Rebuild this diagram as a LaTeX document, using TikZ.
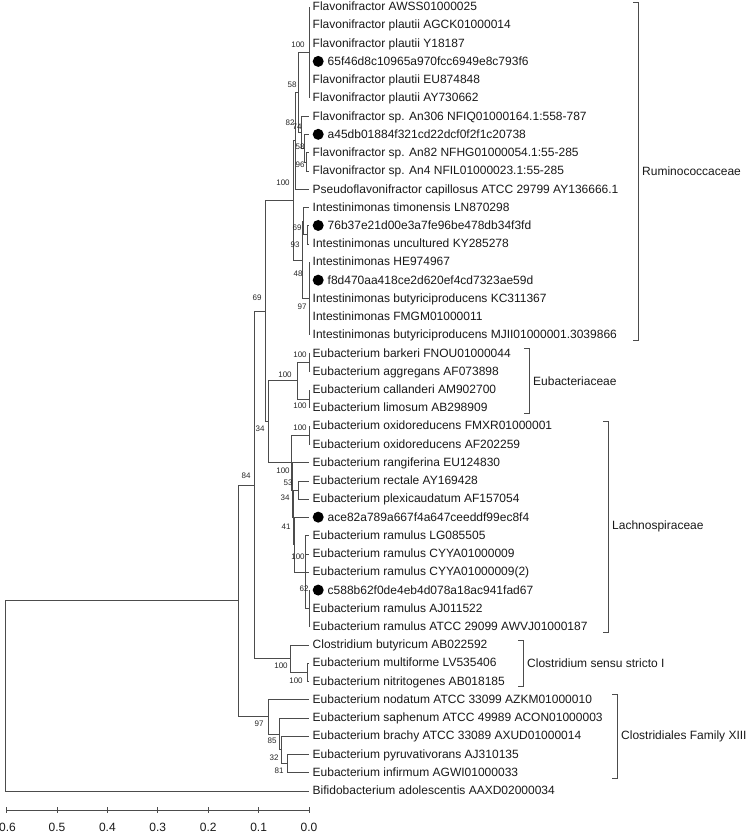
\documentclass[tikz,border=0pt]{standalone}
\usepackage{fontspec}
\setmainfont{Liberation Sans}
\newcommand{\otu}{\tikz[x=1pt,y=1pt,baseline=-4pt]\fill[black] (0,0) circle (5.5pt);\hspace{4pt}}
\newcommand{\branchto}[2]{\foreach \c in {#2} {\draw[branch] (#1) |- (\c);}}
\begin{document}
\begin{tikzpicture}[
    x=1pt, y=-1pt,
    leaf/.style={anchor=west, inner xsep=3.5pt, inner ysep=0pt, text height=8pt, text depth=0.6pt, font=\fontsize{12}{14}\selectfont, text=black!90},
    boot/.style={inner sep=0pt, font=\fontsize{8}{9}\selectfont, text=black!85},
    branch/.style={draw=black!70, line width=0.8pt},
    bracket/.style={draw=black!70, line width=0.8pt},
    group/.style={anchor=west, inner xsep=4pt, font=\fontsize{12}{14}\selectfont, text=black!90},
    tick/.style={font=\fontsize{12}{14}\selectfont, text=black!90}
]
    \useasboundingbox (0,0) rectangle (750,835);

    % Leaves
    \node[leaf] (l1) at (309,7.00) {Flavonifractor AWSS01000025};
    \node[leaf] (l2) at (309,25.23) {Flavonifractor plautii AGCK01000014};
    \node[leaf] (l3) at (309,43.46) {Flavonifractor plautii Y18187};
    \node[leaf] (l4) at (309,61.69) {\otu 65f46d8c10965a970fcc6949e8c793f6};
    \node[leaf] (l5) at (309,79.92) {Flavonifractor plautii EU874848};
    \node[leaf] (l6) at (309,98.15) {Flavonifractor plautii AY730662};
    \node[leaf] (l7) at (309,116.38) {Flavonifractor sp. An306 NFIQ01000164.1:558-787};
    \node[leaf] (l8) at (309,134.61) {\otu a45db01884f321cd22dcf0f2f1c20738};
    \node[leaf] (l9) at (309,152.84) {Flavonifractor sp. An82 NFHG01000054.1:55-285};
    \node[leaf] (l10) at (309,171.07) {Flavonifractor sp. An4 NFIL01000023.1:55-285};
    \node[leaf] (l11) at (309,189.30) {Pseudoflavonifractor capillosus ATCC 29799 AY136666.1};
    \node[leaf] (l12) at (309,207.53) {Intestinimonas timonensis LN870298};
    \node[leaf] (l13) at (309,225.76) {\otu 76b37e21d00e3a7fe96be478db34f3fd};
    \node[leaf] (l14) at (309,243.99) {Intestinimonas uncultured KY285278};
    \node[leaf] (l15) at (309,262.22) {Intestinimonas HE974967};
    \node[leaf] (l16) at (309,280.45) {\otu f8d470aa418ce2d620ef4cd7323ae59d};
    \node[leaf] (l17) at (309,298.68) {Intestinimonas butyriciproducens KC311367};
    \node[leaf] (l18) at (309,316.91) {Intestinimonas FMGM01000011};
    \node[leaf] (l19) at (309,335.14) {Intestinimonas butyriciproducens MJII01000001.3039866};
    \node[leaf] (l20) at (309,353.37) {Eubacterium barkeri FNOU01000044};
    \node[leaf] (l21) at (309,371.60) {Eubacterium aggregans AF073898};
    \node[leaf] (l22) at (309,389.83) {Eubacterium callanderi AM902700};
    \node[leaf] (l23) at (309,408.06) {Eubacterium limosum AB298909};
    \node[leaf] (l24) at (309,426.29) {Eubacterium oxidoreducens FMXR01000001};
    \node[leaf] (l25) at (309,444.52) {Eubacterium oxidoreducens AF202259};
    \node[leaf] (l26) at (309,462.75) {Eubacterium rangiferina EU124830};
    \node[leaf] (l27) at (309,480.98) {Eubacterium rectale AY169428};
    \node[leaf] (l28) at (309,499.21) {Eubacterium plexicaudatum AF157054};
    \node[leaf] (l29) at (309,517.44) {\otu ace82a789a667f4a647ceeddf99ec8f4};
    \node[leaf] (l30) at (309,535.67) {Eubacterium ramulus LG085505};
    \node[leaf] (l31) at (309,553.90) {Eubacterium ramulus CYYA01000009};
    \node[leaf] (l32) at (309,572.13) {Eubacterium ramulus CYYA01000009(2)};
    \node[leaf] (l33) at (309,590.36) {\otu c588b62f0de4eb4d078a18ac941fad67};
    \node[leaf] (l34) at (309,608.59) {Eubacterium ramulus AJ011522};
    \node[leaf] (l35) at (309,626.82) {Eubacterium ramulus ATCC 29099 AWVJ01000187};
    \node[leaf] (l36) at (309,645.05) {Clostridium butyricum AB022592};
    \node[leaf] (l37) at (309,663.28) {Eubacterium multiforme LV535406};
    \node[leaf] (l38) at (309,681.51) {Eubacterium nitritogenes AB018185};
    \node[leaf] (l39) at (309,699.74) {Eubacterium nodatum ATCC 33099 AZKM01000010};
    \node[leaf] (l40) at (309,717.97) {Eubacterium saphenum ATCC 49989 ACON01000003};
    \node[leaf] (l41) at (309,736.20) {Eubacterium brachy ATCC 33089 AXUD01000014};
    \node[leaf] (l42) at (309,754.43) {Eubacterium pyruvativorans AJ310135};
    \node[leaf] (l43) at (309,772.66) {Eubacterium infirmum AGWI01000033};
    \node[leaf] (l44) at (309,790.89) {Bifidobacterium adolescentis AAXD02000034};

    % Internal nodes
    \coordinate (A) at (309,52.58);
    \coordinate (FS3) at (306,161.96);
    \coordinate (FS2) at (304,148.28);
    \coordinate (FS) at (301,132.33);
    \coordinate (N58) at (298,92.45);
    \coordinate (N82) at (295,140.88);
    \coordinate (N69i) at (307,234.88);
    \coordinate (N93) at (303,221.2);
    \coordinate (N97i) at (309,298.68);
    \coordinate (N48) at (302,259.94);
    \coordinate (RR) at (293,200.41);
    \coordinate (BA) at (309,362.49);
    \coordinate (CL) at (309,398.95);
    \coordinate (EU) at (297,380.72);
    \coordinate (OX) at (309,435.41);
    \coordinate (RP) at (298,490.10);
    \coordinate (R62) at (309,608.59);
    \coordinate (R100) at (305,572.13);
    \coordinate (R41) at (294,544.79);
    \coordinate (LA3) at (293,517.45);
    \coordinate (LA2) at (292,490.10);
    \coordinate (LACH) at (291,462.76);
    \coordinate (N34) at (268,421.74);
    \coordinate (N69) at (265,311.08);
    \coordinate (MN) at (307,672.40);
    \coordinate (CS) at (290,658.73);
    \coordinate (N84) at (254,484.9);
    \coordinate (N81) at (287,763.55);
    \coordinate (N32) at (281,749.88);
    \coordinate (N85) at (279,733.93);
    \coordinate (N97) at (268,716.84);
    \coordinate (IN) at (238,600.87);
    \coordinate (RT) at (5,695.88);

    % Branches
    \branchto{A}{l1.west,l2.west,l3.west,l4.west,l5.west,l6.west}
    \branchto{FS3}{l9.west,l10.west}
    \branchto{FS2}{l8.west,FS3}
    \branchto{FS}{l7.west,FS2}
    \branchto{N58}{A,FS}
    \branchto{N82}{N58,l11.west}
    \branchto{N69i}{l13.west,l14.west}
    \branchto{N93}{l12.west,N69i}
    \branchto{N97i}{l15.west,l16.west,l17.west,l18.west,l19.west}
    \branchto{N48}{N93,N97i}
    \branchto{RR}{N82,N48}
    \branchto{BA}{l20.west,l21.west}
    \branchto{CL}{l22.west,l23.west}
    \branchto{EU}{BA,CL}
    \branchto{OX}{l24.west,l25.west}
    \branchto{RP}{l27.west,l28.west}
    \branchto{R62}{l33.west,l34.west,l35.west}
    \branchto{R100}{l30.west,l31.west,l32.west,R62}
    \branchto{R41}{l29.west,R100}
    \branchto{LA3}{RP,R41}
    \branchto{LA2}{l26.west,LA3}
    \branchto{LACH}{OX,LA2}
    \branchto{N34}{EU,LACH}
    \branchto{N69}{RR,N34}
    \branchto{MN}{l37.west,l38.west}
    \branchto{CS}{l36.west,MN}
    \branchto{N84}{N69,CS}
    \branchto{N81}{l42.west,l43.west}
    \branchto{N32}{l41.west,N81}
    \branchto{N85}{l40.west,N32}
    \branchto{N97}{l39.west,N85}
    \branchto{IN}{N84,N97}
    \branchto{RT}{IN,l44.west}

    % Bootstrap values
    \node[boot] (b1) at (298,45) {100};
    \node[boot] (b2) at (292,85) {58};
    \node[boot] (b3) at (290,123) {82};
    \node[boot] (b4) at (297,127) {74};
    \node[boot] (b5) at (300,147) {58};
    \node[boot] (b6) at (300,165) {96};
    \node[boot] (b7) at (283,183) {100};
    \node[boot] (b8) at (297,228) {69};
    \node[boot] (b9) at (295,245) {93};
    \node[boot] (b10) at (298,274) {48};
    \node[boot] (b11) at (302,307) {97};
    \node[boot] (b12) at (257,298) {69};
    \node[boot] (b13) at (300,355) {100};
    \node[boot] (b14) at (285,375) {100};
    \node[boot] (b15) at (300,406) {100};
    \node[boot] (b16) at (260,429) {34};
    \node[boot] (b17) at (300,428) {100};
    \node[boot] (b18) at (246,476) {84};
    \node[boot] (b19) at (283,471) {100};
    \node[boot] (b20) at (288,483) {53};
    \node[boot] (b21) at (285,498) {34};
    \node[boot] (b22) at (286,527) {41};
    \node[boot] (b23) at (298,557) {100};
    \node[boot] (b24) at (304,589) {62};
    \node[boot] (b25) at (281,666) {100};
    \node[boot] (b26) at (296,681) {100};
    \node[boot] (b27) at (259,724) {97};
    \node[boot] (b28) at (272,741) {85};
    \node[boot] (b29) at (274,758) {32};
    \node[boot] (b30) at (279,771) {81};

    % Groups
    \draw[bracket] (633,2) -- (638,2) -- (638,340) -- (633,340);
    \node[group] (g1) at (638,171.07) {Ruminococcaceae};
    \draw[bracket] (524,348) -- (529,348) -- (529,413) -- (524,413);
    \node[group] (g2) at (529,380.72) {Eubacteriaceae};
    \draw[bracket] (603,421) -- (608,421) -- (608,632) -- (603,632);
    \node[group] (g3) at (608,526.55) {Lachnospiraceae};
    \draw[bracket] (518,640) -- (523,640) -- (523,686) -- (518,686);
    \node[group] (g4) at (523,663.28) {Clostridium sensu stricto I};
    \draw[bracket] (612,694) -- (617,694) -- (617,778) -- (612,778);
    \node[group] (g5) at (617,736.20) {Clostridiales Family XIII};

    % Scale
    \draw[branch] (6.6,810) -- (309,810);
    \draw[branch] (309,807) -- (309,813);
    \draw[branch] (258.6,807) -- (258.6,813);
    \draw[branch] (208.2,807) -- (208.2,813);
    \draw[branch] (157.8,807) -- (157.8,813);
    \draw[branch] (107.4,807) -- (107.4,813);
    \draw[branch] (57,807) -- (57,813);
    \draw[branch] (6.6,807) -- (6.6,813);
    \node[tick] (s0) at (309,827) {0.0};
    \node[tick] (s1) at (258.6,827) {0.1};
    \node[tick] (s2) at (208.2,827) {0.2};
    \node[tick] (s3) at (157.8,827) {0.3};
    \node[tick] (s4) at (107.4,827) {0.4};
    \node[tick] (s5) at (57,827) {0.5};
    \node[tick] (s6) at (7.5,827) {0.6};
\end{tikzpicture}
\end{document}
